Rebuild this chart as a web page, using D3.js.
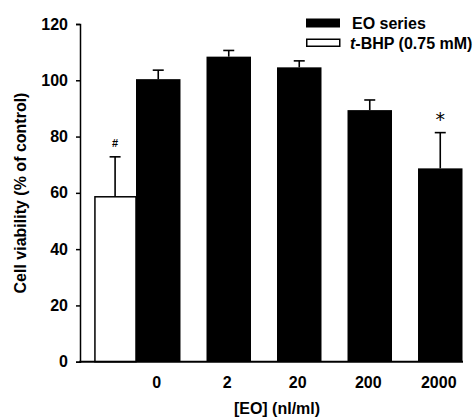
<!DOCTYPE html>
<html>
<head>
<meta charset="utf-8">
<script src="https://cdn.jsdelivr.net/npm/d3@7"></script>
<style>
  html, body { margin: 0; padding: 0; background: #fff; }
  svg { display: block; }
  text { font-family: "Liberation Sans", Arial, sans-serif; font-weight: bold; fill: #000; }
</style>
</head>
<body>
<svg id="chart" width="473" height="417"></svg>
<script>
// EO concentrations (nl/ml) and mean viability with SD
const doses = ["0", "2", "20", "200", "2000"];
const eoMeans = [100.4, 108.4, 104.6, 89.4, 68.7];
const eoErrors = [3.2, 2.2, 2.3, 3.6, 12.7];

// t-BHP (0.75 mM) control
const tbhpMean = 58.6;
const tbhpError = 14.2;

const yTicks = [0, 20, 40, 60, 80, 100, 120];

// significance marks
const marks = [
  { group: "tbhp", symbol: "#" },
  { group: "2000", symbol: "*" }
];

const svg = d3.select("#chart");

const y = d3.scaleLinear().domain([0, 120]).range([361.7, 24]);
const x = d3.scaleBand().domain(doses).range([136, 462.5]).paddingInner(0.369).paddingOuter(0);
const bw = x.bandwidth();
const tbhpW = bw * 0.94;
const tbhpX = x("0") - tbhpW;

// bars
svg.append("g").selectAll("rect")
  .data(doses)
  .join("rect")
  .attr("x", d => x(d))
  .attr("y", (d, i) => y(eoMeans[i]))
  .attr("width", bw)
  .attr("height", (d, i) => y(0) - y(eoMeans[i]))
  .attr("fill", "#000");

svg.append("rect")
  .attr("x", tbhpX + 0.75)
  .attr("y", y(tbhpMean))
  .attr("width", tbhpW - 0.75)
  .attr("height", y(0) - y(tbhpMean))
  .attr("fill", "#fff")
  .attr("stroke", "#000")
  .attr("stroke-width", 1.5);

// error bars (upper only)
const errData = [{ cx: tbhpX + tbhpW / 2, m: tbhpMean, e: tbhpError }]
  .concat(doses.map((d, i) => ({ cx: x(d) + bw / 2, m: eoMeans[i], e: eoErrors[i] })));

const eg = svg.append("g").attr("stroke", "#000").attr("stroke-width", 1.6);
errData.forEach(d => {
  eg.append("line").attr("x1", d.cx).attr("x2", d.cx).attr("y1", y(d.m)).attr("y2", y(d.m + d.e));
  eg.append("line").attr("x1", d.cx - 5.5).attr("x2", d.cx + 5.5).attr("y1", y(d.m + d.e)).attr("y2", y(d.m + d.e));
});

// significance symbols
marks.forEach(mk => {
  let d = mk.group === "tbhp" ? errData[0] : errData[1 + doses.indexOf(mk.group)];
  const t = svg.append("text")
    .attr("x", d.cx)
    .attr("text-anchor", "middle")
    .text(mk.symbol);
  if (mk.symbol === "#") {
    t.attr("y", y(d.m + d.e) - 10).style("font-size", "11px");
  } else {
    t.attr("y", y(d.m + d.e) - 6.5).style("font-size", "19px").style("font-weight", "normal")
      .style("font-family", "'DejaVu Sans', sans-serif");
  }
});

// y axis
const yAxis = svg.append("g")
  .attr("transform", "translate(80,0)")
  .call(d3.axisLeft(y).tickValues(yTicks).tickSize(4).tickPadding(8));
yAxis.select(".domain").attr("stroke", "#000").attr("stroke-width", 1.5);
yAxis.selectAll(".tick line").attr("stroke", "#000").attr("stroke-width", 1.5);
yAxis.selectAll(".tick text").style("font-size", "16px").style("font-family", "'Liberation Sans', Arial, sans-serif").style("font-weight", "bold");

// x axis baseline and labels
svg.append("line")
  .attr("x1", 79.25).attr("x2", 463)
  .attr("y1", y(0)).attr("y2", y(0))
  .attr("stroke", "#000").attr("stroke-width", 2);

svg.append("g").selectAll("text")
  .data(doses)
  .join("text")
  .attr("x", d => x(d) + bw / 2 - 1.5)
  .attr("y", 387.5)
  .attr("text-anchor", "middle")
  .style("font-size", "16px")
  .text(d => d);

// axis titles
svg.append("text")
  .attr("x", 277).attr("y", 413.5)
  .attr("text-anchor", "middle")
  .style("font-size", "16px")
  .text("[EO] (nl/ml)");

svg.append("text")
  .attr("transform", "translate(25.5,193) rotate(-90)")
  .attr("text-anchor", "middle")
  .style("font-size", "16px")
  .text("Cell viability (% of control)");

// legend
const lg = svg.append("g");
lg.append("rect").attr("x", 306).attr("y", 18.5).attr("width", 34).attr("height", 9).attr("fill", "#000");
lg.append("rect").attr("x", 306.75).attr("y", 39.25).attr("width", 33).attr("height", 7)
  .attr("fill", "#fff").attr("stroke", "#000").attr("stroke-width", 1.5);
lg.append("text").attr("x", 352).attr("y", 29).style("font-size", "16px").text("EO series");
const t2 = lg.append("text").attr("x", 350).attr("y", 49).style("font-size", "16px");
t2.append("tspan").style("font-style", "italic").text("t");
t2.append("tspan").text("-BHP (0.75 mM)");
</script>
</body>
</html>
